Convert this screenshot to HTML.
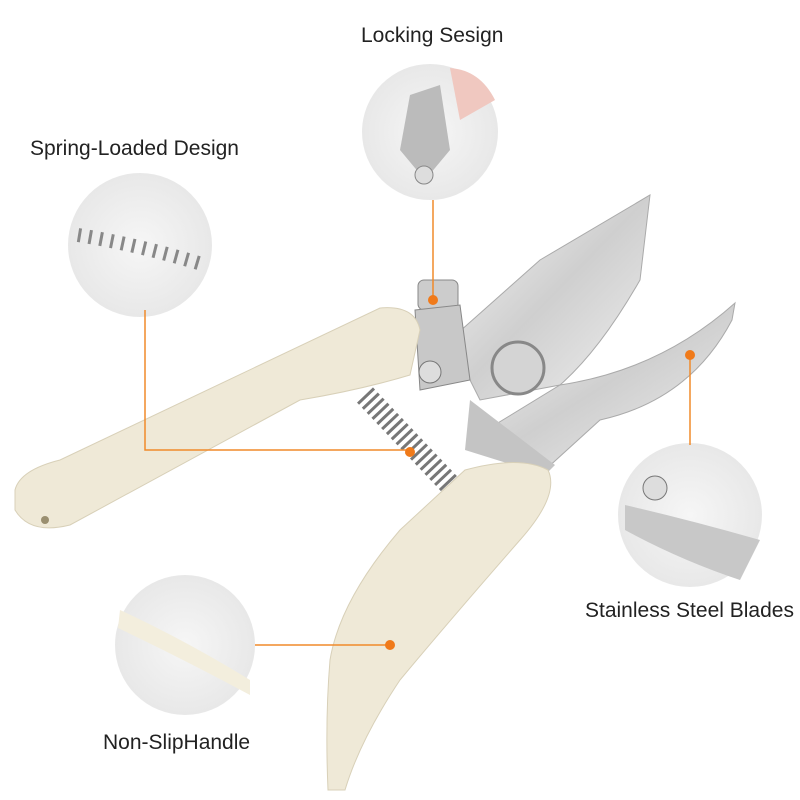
<!DOCTYPE html>
<html><head><meta charset="utf-8"><style>
html,body{margin:0;padding:0;background:#fff;}
.t{position:absolute;font-family:"Liberation Sans",sans-serif;font-size:21px;color:#222;white-space:nowrap;}
</style></head><body>
<div style="position:relative;width:800px;height:800px;overflow:hidden;">
<svg width="800" height="800" viewBox="0 0 800 800" style="position:absolute;left:0;top:0">
<defs>
<radialGradient id="cg" cx="50%" cy="50%" r="50%"><stop offset="0%" stop-color="#f6f6f6"/><stop offset="100%" stop-color="#e8e8e8"/></radialGradient>
<linearGradient id="bl" x1="0" y1="0" x2="1" y2="1"><stop offset="0%" stop-color="#f7f7f7"/><stop offset="50%" stop-color="#cfcfcf"/><stop offset="100%" stop-color="#f0f0f0"/></linearGradient>
</defs>
<circle cx="430" cy="132" r="68" fill="url(#cg)"/>
<path d="M410 95 L440 85 L450 150 L425 180 L400 150Z" fill="#bbb"/>
<circle cx="424" cy="175" r="9" fill="#ddd" stroke="#888"/>
<path d="M450 68 Q480 70 495 100 L460 120Z" fill="#f0c8c0"/>
<circle cx="140" cy="245" r="72" fill="url(#cg)"/>
<path d="M78 235 Q140 245 205 265" stroke="#888" stroke-width="14" fill="none" stroke-dasharray="3 8"/>
<circle cx="690" cy="515" r="72" fill="url(#cg)"/>
<path d="M625 505 Q690 520 760 540 L740 580 Q680 560 625 530Z" fill="#c8c8c8"/>
<circle cx="655" cy="488" r="12" fill="#ddd" stroke="#777"/>
<circle cx="185" cy="645" r="70" fill="url(#cg)"/>
<path d="M120 610 Q185 640 250 680 L250 695 Q185 660 118 628Z" fill="#f3eedd"/>
<path d="M365 395 L455 490" stroke="#777" stroke-width="22" stroke-dasharray="3 4" fill="none"/>
<path d="M450 340 L540 260 L650 195 L640 280 Q600 350 560 385 L480 400Z" fill="url(#bl)" stroke="#aaa"/>
<path d="M560 385 Q660 370 735 303 L732 320 Q690 400 600 420 L545 470 L470 440 Z" fill="url(#bl)" stroke="#aaa"/>
<path d="M470 400 L555 465 L545 475 L465 450Z" fill="#c4c4c4"/>
<circle cx="518" cy="368" r="26" fill="#d4d4d4" stroke="#888" stroke-width="3"/>
<rect x="418" y="280" width="40" height="30" rx="6" fill="#ccc" stroke="#888"/>
<path d="M415 310 L460 305 L470 380 L420 390Z" fill="#c8c8c8" stroke="#888"/>
<circle cx="430" cy="372" r="11" fill="#ddd" stroke="#777"/>
<path d="M15 490 Q20 470 60 460 L380 308 Q415 305 420 330 L410 375 Q360 390 300 400 L70 525 Q30 535 15 510Z" fill="#efe9d7" stroke="#d8d0b8"/>
<circle cx="45" cy="520" r="4" fill="#9a8f70"/>
<path d="M465 470 Q520 455 548 470 Q560 495 520 540 Q450 620 400 680 Q360 740 345 790 L328 790 Q325 720 330 660 Q340 600 400 530 Z" fill="#efe9d7" stroke="#d8d0b8"/>
<g stroke="#f08a2a" stroke-width="1.5" fill="none">
<path d="M433 200 V300"/><path d="M145 310 V450 H410"/><path d="M690 355 V445"/><path d="M255 645 H390"/>
</g>
<g fill="#f07a1a"><circle cx="433" cy="300" r="5"/><circle cx="410" cy="452" r="5"/><circle cx="690" cy="355" r="5"/><circle cx="390" cy="645" r="5"/></g>
</svg>
<div class="t" style="left:361px;top:24px">Locking Sesign</div>
<div class="t" style="left:30px;top:137px">Spring-Loaded Design</div>
<div class="t" style="left:585px;top:599px">Stainless Steel Blades</div>
<div class="t" style="left:103px;top:731px">Non-SlipHandle</div>
</div>
</body></html>
